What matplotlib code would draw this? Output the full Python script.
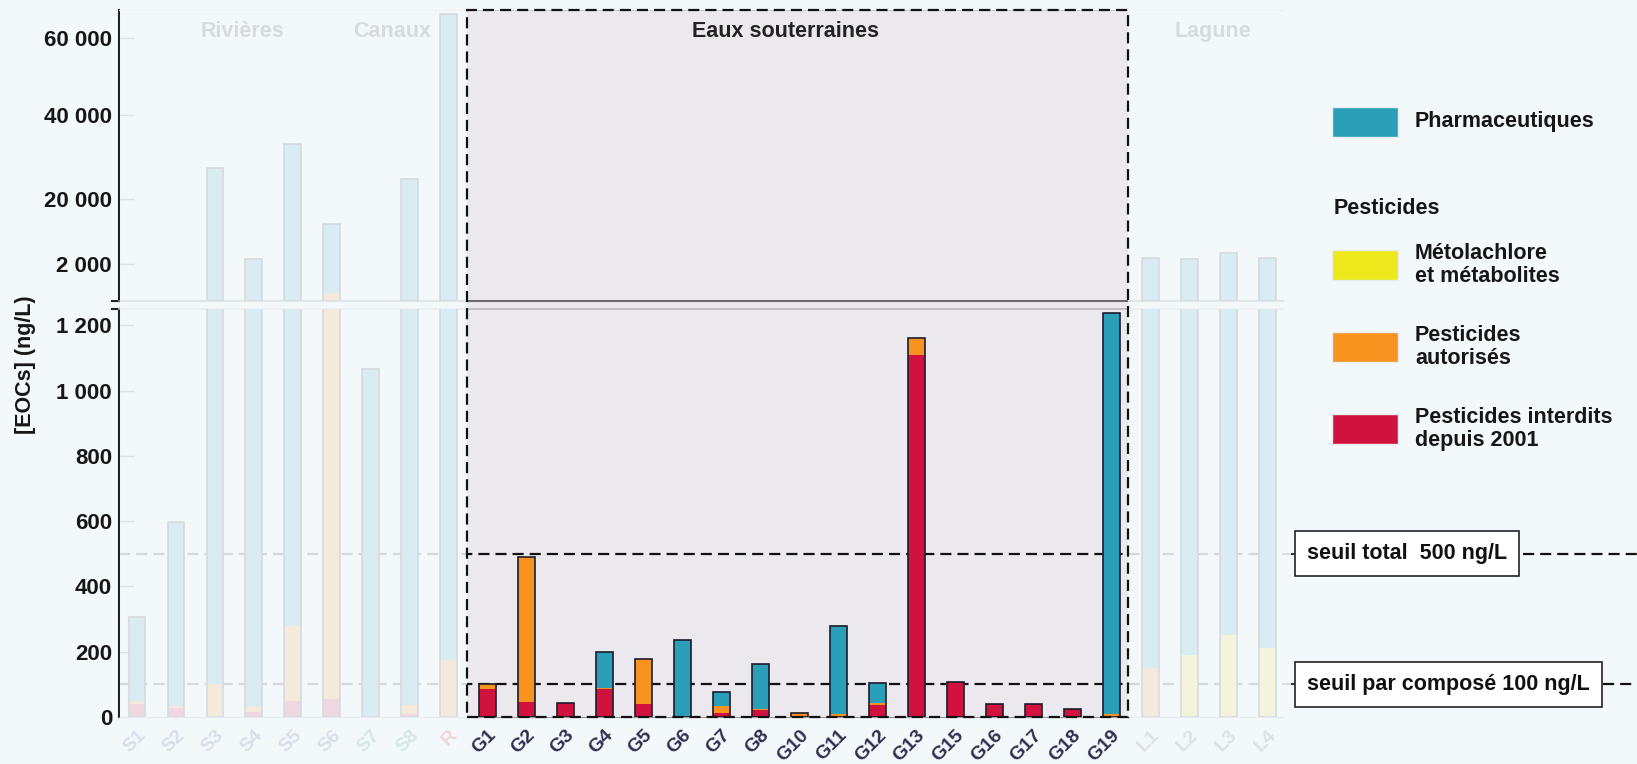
import numpy as np
import matplotlib
matplotlib.use("Agg")
import matplotlib.pyplot as plt
from matplotlib.patches import Rectangle
import matplotlib.transforms as mtransforms

plt.rcParams['font.family'] = ['Liberation Sans', 'DejaVu Sans']
plt.rcParams['font.weight'] = 'bold'

# ---------------- data ----------------
categories = ['S1', 'S2', 'S3', 'S4', 'S5', 'S6', 'S7', 'S8', 'R',
              'G1', 'G2', 'G3', 'G4', 'G5', 'G6', 'G7', 'G8', 'G10', 'G11',
              'G12', 'G13', 'G15', 'G16', 'G17', 'G18', 'G19',
              'L1', 'L2', 'L3', 'L4']
groups = (['Rivieres'] * 6 + ['Canaux'] * 2 + ['R'] + ['G'] * 17 + ['L'] * 4)

interdits = [40, 28, 0, 15, 50, 55, 0, 10, 0,
             87, 47, 44, 85, 40, 0, 11, 20, 2, 0,
             37, 1110, 106, 40, 40, 24, 0,
             0, 0, 0, 0]
autorises = [8, 7, 100, 15, 230, 1350, 0, 27, 175,
             15, 443, 0, 5, 139, 0, 24, 4, 11, 8,
             6, 52, 0, 0, 0, 0, 8,
             150, 0, 0, 0]
metolachlore = [0, 0, 0, 0, 0, 0, 0, 0, 0,
                0, 0, 0, 0, 0, 0, 0, 0, 0, 0,
                0, 0, 0, 0, 0, 0, 0,
                0, 190, 251, 210]
pharma = [257, 563, 27300, 3370, 32800, 11600, 1065, 24700, 66000,
          0, 0, 0, 108, 0, 235, 43, 137, 0, 272,
          62, 0, 0, 0, 0, 0, 1229,
          3600, 3100, 4750, 3540]

series_names = ['Pesticides interdits\ndepuis 2001', 'Pesticides\nautorisés',
                'Métolachlore\net métabolites', 'Pharmaceutiques']
series_colors = ['#d2123e', '#f7931e', '#ece81c', '#2b9fb8']

section_labels = ['Rivières', 'Canaux', 'Eaux souterraines', 'Lagune']
thresholds = [500, 100]
threshold_labels = ['seuil total  500 ng/L', 'seuil par composé 100 ng/L']

top_ticks = [2000, 20000, 40000, 60000]
bottom_ticks = [0, 200, 400, 600, 800, 1000, 1200]

label_colors = {'Rivieres': '#d7dfea', 'Canaux': '#d3e9e3', 'R': '#eed7db',
                'G': '#2d3050', 'L': '#dde1e5'}

# ---------------- layout ----------------
W, H = 1637, 764
BG = '#f3f8fa'
fig = plt.figure(figsize=(W / 100, H / 100), dpi=100, facecolor=BG)


def fx(px):
    return px / W


def fy(py):
    return 1 - py / H


ax_top = fig.add_axes([fx(119), fy(301), (1283 - 119) / W, (301 - 10) / H])
ax_bot = fig.add_axes([fx(119), fy(717), (1283 - 119) / W, (717 - 309) / H])

# non-linear display for the upper (broken) panel
anc_v = np.array([1250, 2000, 20000, 40000, 60000, 67300], float)
anc_p = np.array([0, 37, 102, 186, 263, 291], float)


def fwd(y):
    return np.interp(y, anc_v, anc_p)


def inv(p):
    return np.interp(p, anc_p, anc_v)


ax_top.set_yscale('function', functions=(fwd, inv))
TOP_LIM = (1250, 67300)
BOT_LIM = (0, 1250)

x = np.arange(len(categories))
XL = (-0.46, 29.4)
box_x0, box_x1 = 8.47, 25.42
stack = [np.array(interdits, float), np.array(autorises, float),
         np.array(metolachlore, float), np.array(pharma, float)]
total = sum(stack)
bw = 0.43

for ax, lim in ((ax_top, TOP_LIM), (ax_bot, BOT_LIM)):
    ax.set_facecolor('none')
    bottom = np.zeros(len(x))
    for vals, col in zip(stack, series_colors):
        ax.bar(x, vals, bw, bottom=bottom, color=col, linewidth=0, zorder=3)
        bottom = bottom + vals
    show = total > lim[0]
    ax.bar(x[show], total[show], bw, fill=False, edgecolor='#1c1c2c',
           linewidth=1.2, zorder=4)
    ax.set_xlim(*XL)
    ax.set_ylim(*lim)
    ax.spines['right'].set_visible(False)
    ax.spines['left'].set_color('#222222')
    ax.spines['left'].set_linewidth(1.5)
    ax.tick_params(axis='y', direction='in', length=11, width=1, color='#555555',
                   labelsize=16, labelcolor='#161616', pad=5)
    ax.set_xticks(x)

ax_top.set_yticks(top_ticks)
ax_top.set_yticklabels([f"{v:,}".replace(',', ' ') for v in top_ticks])
ax_bot.set_yticks(bottom_ticks)
ax_bot.set_yticklabels([f"{v:,}".replace(',', ' ') for v in bottom_ticks])
ax_top.yaxis.set_minor_locator(matplotlib.ticker.NullLocator())

ax_top.tick_params(axis='x', length=0, labelbottom=False)
ax_bot.tick_params(axis='x', length=0, pad=7)
ax_bot.set_xticklabels(categories, rotation=45, ha='right', va='top',
                       rotation_mode='anchor', fontsize=14)
for lab, g in zip(ax_bot.get_xticklabels(), groups):
    lab.set_color(label_colors[g])

ax_top.spines['top'].set_color('#cccccc')
ax_top.spines['bottom'].set_color('#6b6b6b')
ax_top.spines['bottom'].set_linewidth(1.5)
ax_bot.spines['top'].set_color('#b9b9b9')
ax_bot.spines['top'].set_linewidth(1.2)
ax_bot.spines['bottom'].set_color('#9a9a9a')

# threshold lines
dash = (0, (5, 2.7))
for t in thresholds:
    ax_bot.axhline(t, color='#111111', lw=1.6, ls=dash, zorder=2)

# section labels
sec_x = [2.72, 6.54, 16.65, 27.6]
tr_top = mtransforms.blended_transform_factory(ax_top.transData, ax_top.transAxes)
for lbl, sx in zip(section_labels, sec_x):
    ax_top.text(sx, 0.925, lbl, transform=tr_top, ha='center', va='center',
                fontsize=15.5, color='#222222', zorder=5)

# fading overlay outside the groundwater box
for ax in (ax_top, ax_bot):
    tr = mtransforms.blended_transform_factory(ax.transData, ax.transAxes)
    ax.add_patch(Rectangle((XL[0] + 0.03, -0.01), box_x0 - XL[0] - 0.03, 1.02,
                           transform=tr, fc=BG, ec='none', alpha=0.87, zorder=10,
                           clip_on=False))
    ax.add_patch(Rectangle((box_x1, -0.01), XL[1] + 0.2 - box_x1, 1.02,
                           transform=tr, fc=BG, ec='none', alpha=0.87, zorder=10,
                           clip_on=False))

# axis break marks
ax_top.plot([-0.006, 0], [0, 0], transform=ax_top.transAxes, color='#222222',
            lw=1.5, clip_on=False)
ax_bot.plot([-0.006, 0], [1, 1], transform=ax_bot.transAxes, color='#222222',
            lw=1.5, clip_on=False)

# groundwater box (spans both panels)
trb = mtransforms.blended_transform_factory(ax_bot.transData, fig.transFigure)
fig.add_artist(Rectangle((box_x0, fy(717)), box_x1 - box_x0, (717 - 10) / H,
                         transform=trb, fc='#ebe9ee', ec='none', zorder=-1))
fig.add_artist(Rectangle((box_x0, fy(717)), box_x1 - box_x0, (717 - 10) / H,
                         transform=trb, fill=False, ec='#111111', lw=1.6, ls=dash,
                         zorder=5))

# threshold labels at right
trt = mtransforms.blended_transform_factory(ax_bot.transAxes, ax_bot.transData)
box_right = [1.2062, 1.2749]
for t, lbl, br in zip(thresholds, threshold_labels, box_right):
    ax_bot.text(1.0206, t, lbl, transform=trt, ha='left', va='center',
                fontsize=15.5, color='#111111', clip_on=False, zorder=12,
                bbox=dict(boxstyle='square,pad=0.55', fc='white', ec='#222222', lw=1.2))
    ax_bot.plot([1.0, 1.0095], [t, t], transform=trt, color='#222222', lw=1.3,
                clip_on=False)
    ax_bot.plot([br, 1.31], [t, t], transform=trt, color='#111111', lw=1.6,
                ls=dash, clip_on=False)

# y label
fig.text(fx(25), fy(365), '[EOCs] (ng/L)', rotation=90, ha='center', va='center',
         fontsize=15.5, color='#161616')

# legend (manual)
leg_items = [(series_names[3], series_colors[3], 122),
             (series_names[2], series_colors[2], 265),
             (series_names[1], series_colors[1], 347),
             (series_names[0], series_colors[0], 429)]
for name, col, cy in leg_items:
    fig.add_artist(Rectangle((fx(1332), fy(cy + 15)), 66 / W, 30 / H,
                             transform=fig.transFigure, fc=col, ec='#e8eef0', lw=1))
    fig.text(fx(1415), fy(cy), name, ha='left', va='center', fontsize=15.5,
             color='#161616', linespacing=1.15)
fig.text(fx(1334), fy(208), 'Pesticides', ha='left', va='center', fontsize=15.5,
         color='#161616')

fig.savefig('out.png', dpi=100, facecolor=BG)
